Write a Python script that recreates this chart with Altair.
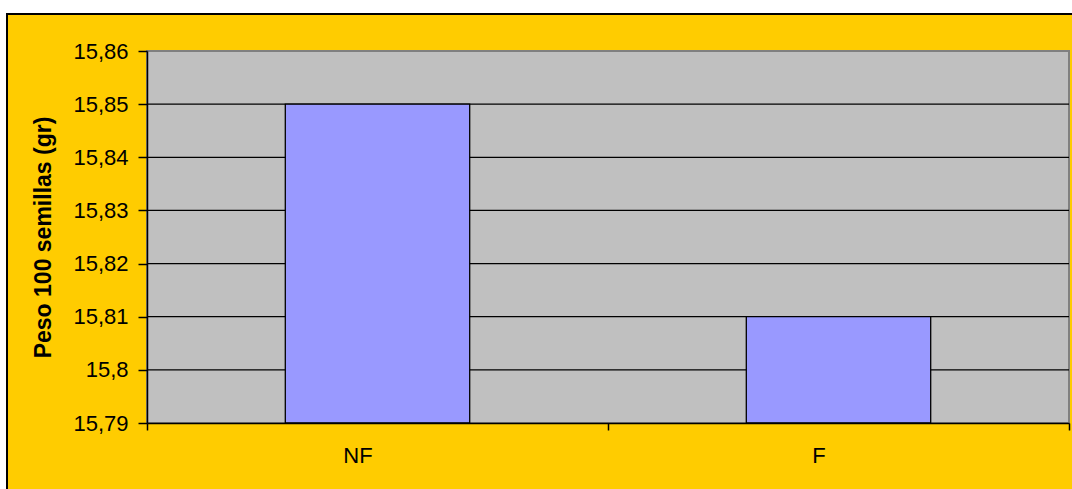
import altair as alt
import pandas as pd

# Peso de 100 semillas por tratamiento
categorias = ["NF", "F"]
peso = [15.85, 15.81]
y_ticks = [15.79, 15.80, 15.81, 15.82, 15.83, 15.84, 15.85, 15.86]
y_titulo = "Peso 100 semillas (gr)"

W, H = 922, 372
FONT = "Liberation Sans"

barras_df = pd.DataFrame({"tratamiento": categorias, "peso": peso})
grid_df = pd.DataFrame({"nivel": y_ticks[1:-1]})
uno = pd.DataFrame({"k": [0]})

y_scale = alt.Scale(domain=[y_ticks[0], y_ticks[-1]], zero=False, nice=False)
y_axis = alt.Axis(
    values=y_ticks,
    labelExpr="replace(format(datum.value, '.2~f'), '.', ',')",
    title=y_titulo,
    titleFont=FONT, titleFontSize=23, titleFontWeight="bold", titleColor="black",
    titlePadding=17,
    labelFont=FONT, labelFontSize=22, labelColor="black", labelPadding=10,
    tickColor="black", tickSize=9, tickWidth=1.5,
    domainColor="black", domainWidth=1.5,
    grid=False, zindex=1,
)
x_scale = alt.Scale(domain=categorias, paddingInner=0, paddingOuter=0)
x_axis = alt.Axis(
    title=None, labelAngle=0, tickBand="extent", labelOffset=-20,
    labelFont=FONT, labelFontSize=22, labelColor="black", labelPadding=15,
    tickColor="black", tickSize=7, tickWidth=1.5,
    domainColor="black", domainWidth=1.5,
    grid=False, zindex=1,
)

# marco amarillo con borde negro
marco = alt.Chart(uno).mark_rect(fill="#FFCC00", stroke="black", strokeWidth=2).encode(
    x=alt.value(-140), x2=alt.value(W + 200), y=alt.value(-37), y2=alt.value(H + 200)
)
# fondo gris del área de trazado
fondo = alt.Chart(uno).mark_rect(fill="#C0C0C0", stroke="#808080", strokeWidth=2).encode(
    x=alt.value(0), x2=alt.value("width"), y=alt.value(0), y2=alt.value("height")
)
# líneas de división horizontales
grid = alt.Chart(grid_df).mark_rule(color="black", strokeWidth=1.3).encode(
    y=alt.Y("nivel:Q", scale=y_scale, axis=y_axis)
)
# barras desde el mínimo del eje
barras = alt.Chart(barras_df).mark_bar(
    fill="#9999FF", stroke="black", strokeWidth=1.3, width=alt.RelativeBandSize(0.4)
).encode(
    x=alt.X("tratamiento:N", sort=categorias, scale=x_scale, axis=x_axis),
    y=alt.Y("peso:Q", scale=y_scale, axis=y_axis),
    y2=alt.datum(y_ticks[0]),
)

chart = alt.layer(marco, fondo, grid, barras).properties(
    width=W,
    height=H,
    autosize=alt.AutoSizeParams(type="none"),
    padding={"left": 147, "top": 51, "right": 3, "bottom": 66},
    background="white",
).configure_view(stroke="transparent")

chart.save("out.html", embed_options={"renderer": "svg", "actions": False})
